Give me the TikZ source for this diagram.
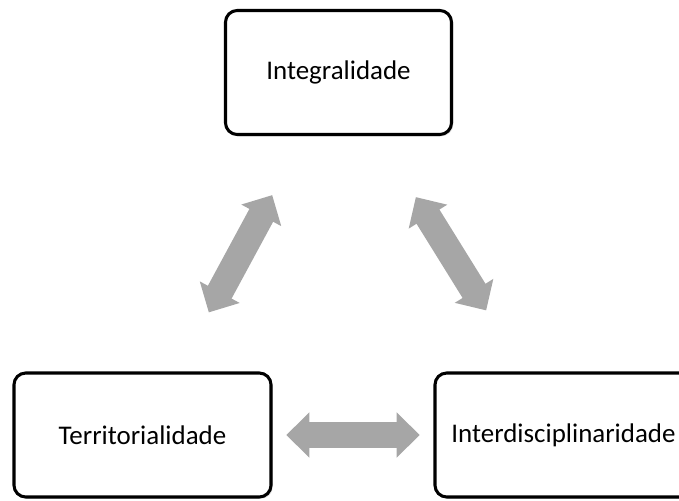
\documentclass[tikz,border=0pt]{standalone}
\usepackage{fontspec}
\setmainfont{Carlito}
\usetikzlibrary{arrows.meta,calc,shadows}
\definecolor{arrowgray}{RGB}{166,166,166}
\tikzset{
  concept/.style={draw=black, line width=2.6pt, fill=white,
                  rounded corners=10pt, minimum width=7.71cm,
                  minimum height=3.72cm, inner sep=0pt, align=center,
                  font=\fontsize{23}{27}\selectfont,
                  drop shadow={opacity=0.25, shadow xshift=1.5pt,
                               shadow yshift=-1.5pt}},
  link/.style={arrowgray, line width=23pt,
               {Triangle[length=0.69cm,width=1.32cm]}-{Triangle[length=0.69cm,width=1.32cm]}},
}

\begin{document}
\begin{tikzpicture}[x=0.03cm,y=-0.03cm]
  \path[use as bounding box] (0,0) rectangle (679,500);
  \clip (0,0) rectangle (679,500);

  % the three principles
  \node[concept, minimum width=6.78cm] (integ) at (338.5,72.5) {Integralidade};
  \node[concept] (territ) at (142.5,435) {Territorialidade};
  \node[concept] (inter) at (563.5,435) {Interdisciplinaridade};

  % two-way links between them
  \draw[link] ($(integ)!0.5!(territ)!2cm!(integ)$)
    -- ($(integ)!0.5!(territ)!2cm!(territ)$);
  \draw[link] ($(integ)!0.5!(inter)!2cm!(integ)$)
    -- ($(integ)!0.5!(inter)!2cm!(inter)$);
  \draw[link] ($(territ)!0.5!(inter)!2cm!(territ)$)
    -- ($(territ)!0.5!(inter)!2cm!(inter)$);
\end{tikzpicture}
\end{document}
